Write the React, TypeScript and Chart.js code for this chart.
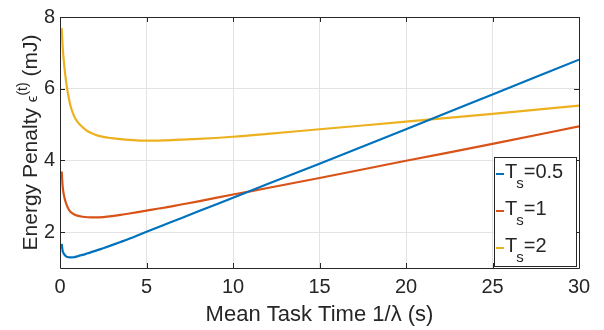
import React, { useEffect, useRef } from "react";
import { Chart, registerables } from "chart.js";

Chart.register(...registerables);

const X_VALUES = [0.1, 0.15, 0.2, 0.3, 0.4, 0.5, 0.6, 0.8, 1, 1.3, 1.6, 2, 2.5, 3, 3.5, 4, 5, 6, 7, 8, 10, 12, 15, 20, 25, 30];
const TS_05 = [1.67, 1.48, 1.42, 1.35, 1.31, 1.3, 1.295, 1.3, 1.325, 1.365, 1.41, 1.47, 1.553, 1.638, 1.725, 1.815, 2.01, 2.2, 2.39, 2.58, 2.96, 3.34, 3.91, 4.87, 5.84, 6.81];
const TS_1 = [3.69, 3.3, 3.1, 2.88, 2.74, 2.64, 2.57, 2.5, 2.46, 2.43, 2.415, 2.41, 2.42, 2.445, 2.48, 2.52, 2.6, 2.68, 2.77, 2.86, 3.05, 3.23, 3.51, 3.99, 4.46, 4.95];
const TS_2 = [7.69, 7.2, 6.88, 6.4, 6.04, 5.76, 5.53, 5.25, 5.08, 4.93, 4.815, 4.725, 4.655, 4.62, 4.595, 4.575, 4.55, 4.56, 4.58, 4.6, 4.66, 4.74, 4.87, 5.08, 5.3, 5.53];

const SERIES_LABELS = ["0.5", "1", "2"];
const SERIES_COLORS = ["#0072BD", "#D95319", "#EDB120"];
const X_TICKS = [0, 5, 10, 15, 20, 25, 30];
const Y_TICKS = [2, 4, 6, 8];
const X_TITLE = "Mean Task Time 1/\u03BB (s)";

const FONT = "'Liberation Sans', Arial, Helvetica, sans-serif";
const TEXT = "#262626";

const decorPlugin = {
  id: "decor",
  afterDraw(chart: any) {
    const ctx: CanvasRenderingContext2D = chart.ctx;
    const a = chart.chartArea;
    const xs = chart.scales.x;
    const ys = chart.scales.y;
    ctx.save();
    // box
    ctx.strokeStyle = TEXT;
    ctx.lineWidth = 1;
    ctx.beginPath();
    ctx.rect(Math.round(a.left) + 0.5, Math.round(a.top) + 0.5, Math.round(a.right - a.left), Math.round(a.bottom - a.top));
    ctx.stroke();
    // inward ticks
    const tl = 5;
    ctx.beginPath();
    X_TICKS.forEach((v) => {
      const px = Math.round(xs.getPixelForValue(v)) + 0.5;
      ctx.moveTo(px, a.bottom);
      ctx.lineTo(px, a.bottom - tl);
      ctx.moveTo(px, a.top);
      ctx.lineTo(px, a.top + tl);
    });
    Y_TICKS.forEach((v) => {
      const py = Math.round(ys.getPixelForValue(v)) + 0.5;
      ctx.moveTo(a.left, py);
      ctx.lineTo(a.left + tl, py);
      ctx.moveTo(a.right, py);
      ctx.lineTo(a.right - tl, py);
    });
    ctx.stroke();

    // legend
    const bw = 82;
    const bh = 109;
    const bx = Math.round(a.right - 3 - bw);
    const by = Math.round(a.bottom - 2 - bh);
    ctx.fillStyle = "#ffffff";
    ctx.fillRect(bx, by, bw, bh);
    ctx.strokeStyle = TEXT;
    ctx.lineWidth = 1;
    ctx.strokeRect(bx + 0.5, by + 0.5, bw, bh);
    SERIES_LABELS.forEach((lab, i) => {
      const cy = by + 17 + i * 37;
      ctx.strokeStyle = SERIES_COLORS[i];
      ctx.lineWidth = 2;
      ctx.beginPath();
      ctx.moveTo(bx + 2, cy);
      ctx.lineTo(bx + 10, cy);
      ctx.stroke();
      ctx.fillStyle = TEXT;
      ctx.textBaseline = "alphabetic";
      ctx.textAlign = "left";
      let tx = bx + 11;
      const base = cy + 4;
      ctx.font = `20px ${FONT}`;
      ctx.fillText("T", tx, base);
      tx += ctx.measureText("T").width - 1;
      ctx.font = `15px ${FONT}`;
      ctx.fillText("s", tx, base + 10);
      tx += ctx.measureText("s").width;
      ctx.font = `20px ${FONT}`;
      ctx.fillText("=" + lab, tx, base);
    });

    // y title
    const cyT = (a.top + a.bottom) / 2;
    ctx.translate(37, cyT);
    ctx.rotate(-Math.PI / 2);
    ctx.fillStyle = TEXT;
    ctx.textBaseline = "alphabetic";
    ctx.textAlign = "left";
    const parts: [string, number, number][] = [
      ["Energy Penalty ", 21, 0],
      ["\u03F5", 15, 0],
      ["(t)", 14, -10],
      [" (mJ)", 21, 0],
    ];
    let total = 0;
    parts.forEach(([t, s]) => {
      ctx.font = `${s}px ${FONT}`;
      total += ctx.measureText(t).width;
    });
    let x = -total / 2;
    parts.forEach(([t, s, dy]) => {
      ctx.font = `${s}px ${FONT}`;
      ctx.fillText(t, x, dy);
      x += ctx.measureText(t).width;
    });
    ctx.restore();
  },
};

export default function App() {
  const ref = useRef<HTMLCanvasElement | null>(null);
  useEffect(() => {
    document.body.style.margin = "0";
    const canvas = ref.current!;
    const series = [TS_05, TS_1, TS_2];
    const chart = new Chart(canvas, {
      type: "line",
      data: {
        datasets: series.map((s, i) => ({
          label: "T_s=" + SERIES_LABELS[i],
          data: X_VALUES.map((x, j) => ({ x, y: s[j] })),
          borderColor: SERIES_COLORS[i],
          backgroundColor: SERIES_COLORS[i],
          borderWidth: 2.2,
          pointRadius: 0,
          cubicInterpolationMode: "monotone" as const,
          fill: false,
        })),
      },
      options: {
        responsive: false,
        animation: false,
        layout: { padding: { top: 6, right: 25, left: 0, bottom: 0 } },
        plugins: { legend: { display: false }, tooltip: { enabled: false }, title: { display: false } },
        scales: {
          x: {
            type: "linear",
            min: 0,
            max: 30,
            afterBuildTicks: (s: any) => {
              s.ticks = X_TICKS.map((v) => ({ value: v }));
            },
            afterFit: (s: any) => {
              s.height = 62;
            },
            grid: { color: "#e3e3e3", drawTicks: false, lineWidth: 1 },
            border: { display: false },
            ticks: { color: TEXT, font: { family: FONT, size: 20 }, padding: 7, maxRotation: 0 },
            title: { display: true, text: X_TITLE, color: TEXT, font: { family: FONT, size: 22 }, padding: { top: 0, bottom: 2 } },
          },
          y: {
            type: "linear",
            min: 1,
            max: 8,
            afterBuildTicks: (s: any) => {
              s.ticks = Y_TICKS.map((v) => ({ value: v }));
            },
            afterFit: (s: any) => {
              s.width = 60;
            },
            grid: { color: "#e3e3e3", drawTicks: false, lineWidth: 1 },
            border: { display: false },
            ticks: { color: TEXT, font: { family: FONT, size: 20 }, padding: 5 },
          },
        },
      },
      plugins: [decorPlugin],
    });
    return () => chart.destroy();
  }, []);
  return <canvas ref={ref} width={604} height={330} style={{ display: "block" }} />;
}
